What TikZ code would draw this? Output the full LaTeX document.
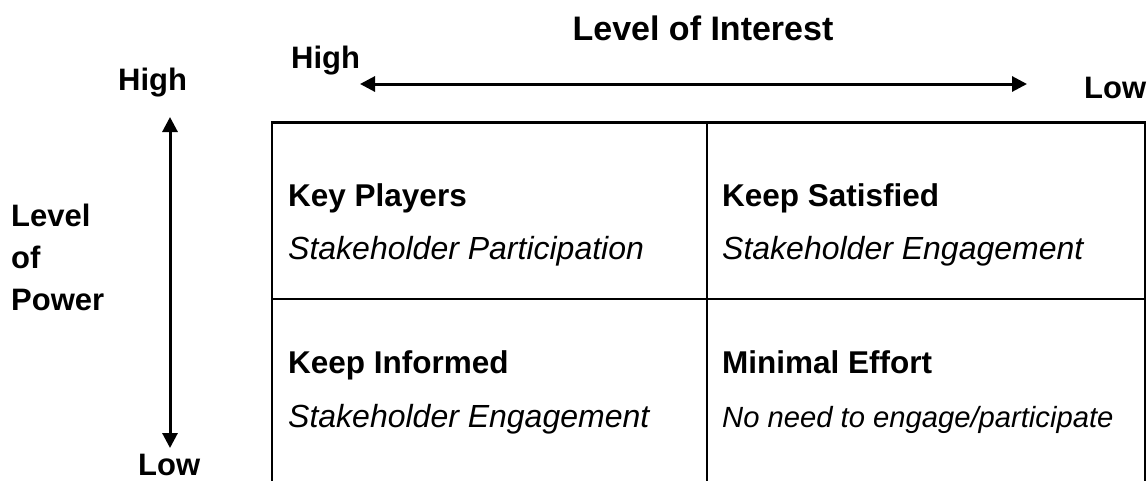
\documentclass[tikz,border=0pt]{standalone}
\usepackage{fontspec}
\setmainfont{Liberation Sans}
\usetikzlibrary{arrows.meta}
\tikzset{
  lbl/.style={inner sep=0pt, anchor=base west, font=\bfseries\fontsize{31}{37}\selectfont},
  title/.style={inner sep=0pt, anchor=base, font=\bfseries\fontsize{34}{40}\selectfont},
  head/.style={inner sep=0pt, anchor=base west, font=\bfseries\fontsize{31.5}{37}\selectfont},
  sub/.style={inner sep=0pt, anchor=base west, font=\itshape\fontsize{32}{38}\selectfont},
  subsmall/.style={inner sep=0pt, anchor=base west, font=\itshape\fontsize{29.2}{34}\selectfont},
  grid/.style={line width=2.4pt, black},
  axis/.style={line width=3pt, black, {Triangle[length=15pt,width=15pt]}-{Triangle[length=15pt,width=15pt]}}
}
\begin{document}
\begin{tikzpicture}[x=1pt,y=-1pt]
\useasboundingbox (0,0) rectangle (1148,480);
\fill[white] (0,0) rectangle (1148,480);
% axis labels
\node[title] (loi) at (703,40) {Level of Interest};
\node[lbl] (hi1) at (291,68) {High};
\node[lbl] (lo1) at (1084,98) {Low};
\node[lbl] (hi2) at (118,90) {High};
\node[lbl] (lo2) at (138,475) {Low};
\node[lbl] (lev) at (11,226) {Level};
\node[lbl] (of) at (11,268) {of};
\node[lbl] (pow) at (11,310) {Power};
% arrows
\coordinate (ha) at (360,84);
\coordinate (hb) at (1027,84);
\coordinate (va) at (170,117);
\coordinate (vb) at (170,448);
\draw[axis] (ha) -- (hb);
\draw[axis] (va) -- (vb);
% grid
\coordinate (tl) at (272,122);
\coordinate (tm) at (707,122);
\coordinate (tr) at (1145,122);
\coordinate (bl) at (272,482);
\coordinate (bm) at (707,482);
\coordinate (br) at (1145,482);
\coordinate (ml) at (272,299);
\coordinate (mr) at (1145,299);
\draw[grid, line width=3pt] ([xshift=-1.2pt]tl) -- ([xshift=1.2pt]tr);
\draw[grid] (tl) -- (bl);
\draw[grid] (tm) -- (bm);
\draw[grid] (tr) -- (br);
\draw[grid] (ml) -- (mr);
% cells
\node[head] (kp) at (288,206) {Key Players};
\node[sub] (kps) at (288,259) {Stakeholder Participation};
\node[head] (ks) at (722,206) {Keep Satisfied};
\node[sub] (kss) at (722,259) {Stakeholder Engagement};
\node[head] (ki) at (288,373) {Keep Informed};
\node[sub] (kis) at (288,427) {Stakeholder Engagement};
\node[head] (me) at (722,373) {Minimal Effort};
\node[subsmall] (mes) at (722,427) {No need to engage/participate};
\end{tikzpicture}
\end{document}
